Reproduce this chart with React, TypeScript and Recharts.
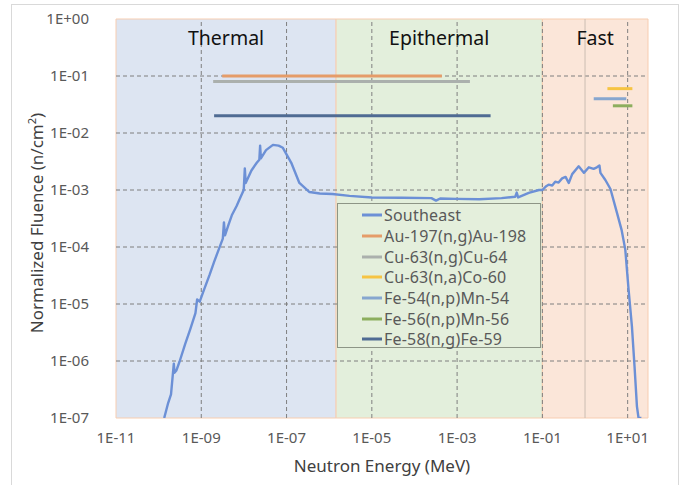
import React from 'react';
import {
  LineChart,
  Line,
  XAxis,
  YAxis,
  ReferenceArea,
  ReferenceLine,
  Legend,
} from 'recharts';

// Southeast spectrum (energy in MeV, fluence)
const seEnergy = [
  1.35e-10, 1.67e-10, 1.95e-10, 2.27e-10, 2.35e-10, 2.6e-10, 3.1e-10, 4.2e-10, 5.5e-10, 7.3e-10,
  8.0e-10, 9.2e-10, 1.1e-9, 1.58e-9, 2.0e-9, 2.56e-9, 3.2e-9, 3.4e-9, 3.6e-9, 4.3e-9,
  5.2e-9, 6.7e-9, 8.2e-9, 9.9e-9, 1.05e-8, 1.1e-8, 1.5e-8, 2.0e-8, 2.3e-8, 2.4e-8,
  2.5e-8, 3.3e-8, 4.8e-8, 6.5e-8, 8.2e-8, 1.29e-7, 2.0e-7, 3.45e-7, 6e-7, 1.19e-6,
  3e-6, 1e-5, 5e-5, 2.5e-4, 3.2e-4, 4e-4, 1e-3, 3.3e-3, 1.1e-2, 2.3e-2,
  2.5e-2, 2.7e-2, 4.8e-2, 8.3e-2, 0.1, 0.12, 0.14, 0.17, 0.2, 0.24, 0.29, 0.35, 0.415,
  0.5, 0.71, 0.94, 1.23, 1.59, 1.9, 2.18, 2.3, 3.0, 3.95,
  5.6, 7.2, 8.8, 10.5, 12.6, 14.5, 16.5, 18, 21,
];
const seFluence = [
  1.0e-7, 1.83e-7, 2.6e-7, 9.0e-7, 6.2e-7, 6.8e-7, 9.8e-7, 2.0e-6, 3.6e-6, 6.9e-6,
  1.2e-5, 1.1e-5, 1.6e-5, 3.3e-5, 5.5e-5, 9e-5, 1.4e-4, 2.7e-4, 1.6e-4, 2.4e-4,
  3.6e-4, 5.2e-4, 7.3e-4, 1.0e-3, 2.4e-3, 1.33e-3, 2.2e-3, 3.0e-3, 3.4e-3, 6.0e-3,
  3.6e-3, 5.0e-3, 6.2e-3, 6.0e-3, 5.5e-3, 3.0e-3, 1.33e-3, 9.2e-4, 8.7e-4, 8.5e-4,
  7.9e-4, 7.4e-4, 7.3e-4, 7.2e-4, 6.5e-4, 7.1e-4, 7.0e-4, 6.9e-4, 7.2e-4, 7.6e-4,
  9e-4, 7.4e-4, 8.9e-4, 1.0e-3, 1.0e-3, 1.15e-3, 1.24e-3, 1.2e-3, 1.4e-3, 1.35e-3, 1.6e-3, 1.7e-3, 1.33e-3,
  1.9e-3, 2.6e-3, 2.0e-3, 2.5e-3, 2.35e-3, 2.5e-3, 2.7e-3, 2.0e-3, 1.5e-3, 1.04e-3,
  4e-4, 2e-4, 9e-5, 1.8e-5, 4e-6, 8e-7, 1.6e-7, 1e-7, 1e-7,
];

// reaction energy ranges
const reactionNames = [
  'Au-197(n,g)Au-198',
  'Cu-63(n,g)Cu-64',
  'Cu-63(n,a)Co-60',
  'Fe-54(n,p)Mn-54',
  'Fe-56(n,p)Mn-56',
  'Fe-58(n,g)Fe-59',
];
const reactionLow = [3.1e-9, 1.9e-9, 3.35, 1.6, 4.5, 2.0e-9];
const reactionHigh = [4.4e-4, 2.0e-3, 12.9, 9.3, 12.9, 6.1e-3];
const reactionLevel = [0.1, 0.08, 0.06, 0.04, 0.03, 0.02];
const reactionColors = ['#e59c69', '#abb0ad', '#f6c443', '#86a6cf', '#8cae5e', '#4f6b93'];

const regionNames = ['Thermal', 'Epithermal', 'Fast'];
const regionBounds = [1e-11, 1.45e-6, 0.1, 30];
const regionFills = ['#dde5f2', '#e3efdc', '#fbe6d9'];

const xTicks = [1e-11, 1e-9, 1e-7, 1e-5, 1e-3, 1e-1, 1e1];
const yTicks = [1e-7, 1e-6, 1e-5, 1e-4, 1e-3, 1e-2, 1e-1, 1];

const seColor = '#6c90d6';
const font = '"Noto Sans", sans-serif';

const seData = seEnergy.map((e, i) => ({ e, v: seFluence[i] }));
const reactionData = reactionNames.map((_, i) => [
  { e: reactionLow[i], v: reactionLevel[i] },
  { e: reactionHigh[i], v: reactionLevel[i] },
]);

const sci = (v: number) => {
  const p = Math.round(Math.log10(v));
  return `1E${p < 0 ? '-' : '+'}${String(Math.abs(p)).padStart(2, '0')}`;
};

const legendItems = [
  { name: 'Southeast', color: seColor },
  ...reactionNames.map((name, i) => ({ name, color: reactionColors[i] })),
];

const LegendBox = () => (
  <div
    style={{
      width: 204,
      height: 145,
      boxSizing: 'border-box',
      background: '#e4efdc',
      border: '1.5px solid #8d9586',
      paddingTop: 1,
      fontFamily: font,
      fontSize: 16,
      letterSpacing: 0.2,
      color: '#595959',
    }}
  >
    {legendItems.map((item) => (
      <div key={item.name} style={{ height: 20.7, display: 'flex', alignItems: 'center' }}>
        <svg width={46} height={6} style={{ flex: 'none' }}>
          <line x1={24} x2={44} y1={3} y2={3} stroke={item.color} strokeWidth={3} />
        </svg>
        <span style={{ whiteSpace: 'nowrap', lineHeight: '20px' }}>{item.name}</span>
      </div>
    ))}
  </div>
);

export default function App() {
  return (
    <div style={{ position: 'absolute', left: 0, top: 0, width: 684, height: 485, background: '#fff' }}>
      <div
        style={{
          position: 'absolute',
          left: 11,
          top: 4,
          width: 668,
          height: 500,
          border: '1px solid #d9d9d9',
          boxSizing: 'border-box',
        }}
      />
      <LineChart
        width={684}
        height={485}
        margin={{ top: 19, right: 36, left: 0, bottom: 0 }}
        style={{ position: 'absolute', left: 0, top: 0 }}
      >
        <XAxis
          dataKey="e"
          type="number"
          scale="log"
          domain={[1e-11, 30]}
          allowDataOverflow
          ticks={xTicks}
          tickFormatter={sci}
          height={67}
          axisLine={false}
          tickLine={false}
          tickMargin={8}
          tick={{ fontSize: 15, fill: '#595959', fontFamily: font }}
          label={{
            content: () => (
              <text x={382} y={472} textAnchor="middle" fontSize={17} fill="#404040" fontFamily={font}>
                Neutron Energy (MeV)
              </text>
            ),
          }}
        />
        <YAxis
          type="number"
          scale="log"
          domain={[1e-7, 1]}
          allowDataOverflow
          ticks={yTicks}
          tickFormatter={sci}
          width={116}
          axisLine={false}
          tickLine={false}
          tickMargin={21}
          tick={{ fontSize: 15, fill: '#595959', fontFamily: font }}
          label={{
            content: () => (
              <text
                x={0}
                y={0}
                transform="translate(43 223) rotate(-90)"
                textAnchor="middle"
                fontSize={17}
                fill="#404040"
                fontFamily={font}
              >
                Normalized Fluence (n/cm
                <tspan fontSize={11} dy={-7}>2</tspan>
                <tspan dy={7}>)</tspan>
              </text>
            ),
          }}
        />
        {regionNames.map((name, i) => (
          <ReferenceArea
            key={name}
            x1={regionBounds[i]}
            x2={regionBounds[i + 1]}
            y1={1e-7}
            y2={1}
            fill={regionFills[i]}
            fillOpacity={1}
            stroke="#f7cdb0"
            strokeWidth={1}
            label={{
              value: name,
              position: 'insideTop',
              offset: 12,
              fontSize: 19.5,
              fill: '#111',
              fontFamily: font,
            }}
          />
        ))}
        {yTicks.slice(1, -1).map((t) => (
          <ReferenceLine key={`y${t}`} y={t} stroke="#7f7f7f" strokeDasharray="4 3" strokeWidth={1} />
        ))}
        {xTicks.slice(1).map((t) => (
          <ReferenceLine key={`x${t}`} x={t} stroke="#7f7f7f" strokeDasharray="4 3" strokeWidth={1} />
        ))}
        <ReferenceLine x={1} stroke="#cbbdb3" strokeWidth={1} />
        <Legend
          layout="vertical"
          align="center"
          verticalAlign="middle"
          content={() => <LegendBox />}
          wrapperStyle={{ left: 337, top: 203, width: 204, height: 145 }}
        />
        {reactionNames.map((name, i) => (
          <Line
            key={name}
            data={reactionData[i]}
            dataKey="v"
            name={name}
            stroke={reactionColors[i]}
            strokeWidth={3}
            dot={false}
            isAnimationActive={false}
          />
        ))}
        <Line
          data={seData}
          dataKey="v"
          name="Southeast"
          stroke={seColor}
          strokeWidth={2.4}
          dot={false}
          isAnimationActive={false}
          strokeLinejoin="round"
        />
      </LineChart>
    </div>
  );
}
